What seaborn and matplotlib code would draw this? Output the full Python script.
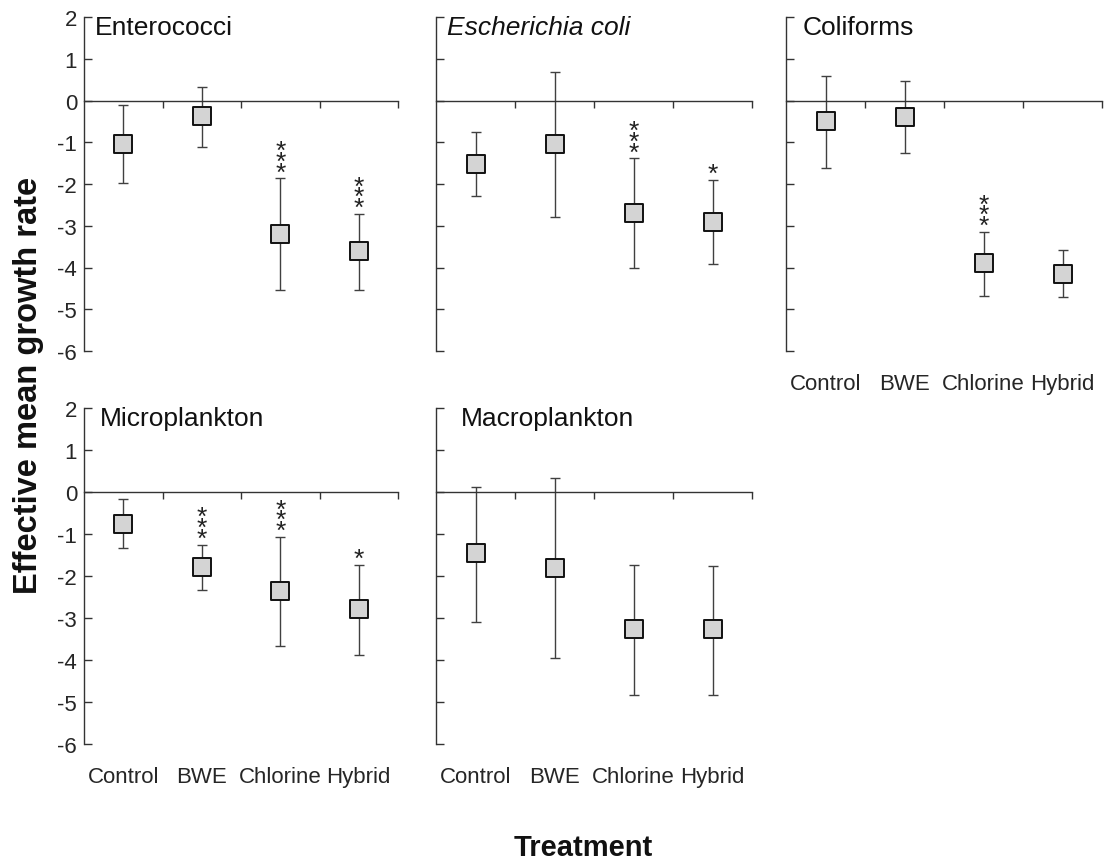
import numpy as np
import pandas as pd
import matplotlib
matplotlib.use("Agg")
import matplotlib.pyplot as plt
import seaborn as sns

# ---- data -------------------------------------------------------------
treatments = ["Control", "BWE", "Chlorine", "Hybrid"]
panel_names = ["Enterococci", "Escherichia coli", "Coliforms",
               "Microplankton", "Macroplankton"]

enterococci_mean = [-1.03, -0.36, -3.19, -3.61]
enterococci_low = [-1.98, -1.11, -4.53, -4.53]
enterococci_high = [-0.11, 0.33, -1.86, -2.71]
enterococci_sig = ["", "", "***", "***"]

ecoli_mean = [-1.52, -1.05, -2.70, -2.91]
ecoli_low = [-2.29, -2.79, -4.01, -3.91]
ecoli_high = [-0.75, 0.69, -1.38, -1.90]
ecoli_sig = ["", "", "***", "*"]

coliforms_mean = [-0.50, -0.40, -3.89, -4.15]
coliforms_low = [-1.61, -1.26, -4.69, -4.71]
coliforms_high = [0.59, 0.46, -3.14, -3.59]
coliforms_sig = ["", "", "***", ""]

micro_mean = [-0.75, -1.78, -2.35, -2.79]
micro_low = [-1.34, -2.33, -3.66, -3.87]
micro_high = [-0.17, -1.25, -1.06, -1.73]
micro_sig = ["", "***", "***", "*"]

macro_mean = [-1.46, -1.81, -3.25, -3.26]
macro_low = [-3.10, -3.96, -4.83, -4.83]
macro_high = [0.13, 0.33, -1.74, -1.76]
macro_sig = ["", "", "", ""]

y_ticks = [-6, -5, -4, -3, -2, -1, 0, 1, 2]

series = [
    (enterococci_mean, enterococci_low, enterococci_high, enterococci_sig),
    (ecoli_mean, ecoli_low, ecoli_high, ecoli_sig),
    (coliforms_mean, coliforms_low, coliforms_high, coliforms_sig),
    (micro_mean, micro_low, micro_high, micro_sig),
    (macro_mean, macro_low, macro_high, macro_sig),
]

frames = []
for name, (m, lo, hi, sig) in zip(panel_names, series):
    frames.append(pd.DataFrame({
        "panel": name,
        "treatment": treatments,
        "pos": np.arange(len(treatments)),
        "mean": m, "low": lo, "high": hi, "sig": sig,
    }))
df = pd.concat(frames, ignore_index=True)

# ---- style ------------------------------------------------------------
sns.set_theme(style="white")
plt.rcParams["font.family"] = ["Liberation Sans", "DejaVu Sans"]
plt.rcParams["axes.unicode_minus"] = False
plt.rcParams["axes.linewidth"] = 1.0
plt.rcParams["axes.edgecolor"] = "#333333"

W, H = 1111, 862
fig = plt.figure(figsize=(W / 100, H / 100), dpi=100)

# axes rectangles in pixels: left, top, width, height
rects = [
    (84, 18, 314, 334), (436, 18, 316, 334), (786, 18, 316, 334),
    (84, 409, 314, 336), (436, 409, 316, 336),
]
title_offsets_px = [11, 11, 17, 16, 25]
show_ylabels = [True, False, False, True, False]
show_xlabels = [False, False, True, True, True]

for i, name in enumerate(panel_names):
    l, t, w, h = rects[i]
    ax = fig.add_axes([l / W, 1 - (t + h) / H, w / W, h / H])
    d = df[df["panel"] == name]

    ax.errorbar(d["pos"], d["mean"],
                yerr=[d["mean"] - d["low"], d["high"] - d["mean"]],
                fmt="none", ecolor="#404040", elinewidth=1.0,
                capsize=3.3, capthick=1.0, zorder=2)
    sns.scatterplot(data=d, x="pos", y="mean", marker="s", s=175,
                    color="#d4d4d4", edgecolor="#111111", linewidth=1.4,
                    zorder=4, ax=ax, legend=False)

    for _, r in d.iterrows():
        if r["sig"]:
            ax.annotate("\n".join(r["sig"]), xy=(r["pos"], r["high"]),
                        xytext=(0, -4.5), textcoords="offset points",
                        ha="center", va="bottom", fontsize=19,
                        linespacing=0.30, color="#222222")

    ax.set_xlim(-0.5, 3.5)
    ax.set_ylim(-6, 2)
    ax.set_xlabel("")
    ax.set_ylabel("")
    for s in ("top", "right"):
        ax.spines[s].set_visible(False)
    ax.spines["bottom"].set_position(("data", 0))

    ax.set_xticks([0.5, 1.5, 2.5, 3.5])
    ax.set_xticklabels([])
    ax.tick_params(axis="x", direction="out", length=5, width=1.0,
                   color="#333333", bottom=True)
    ax.set_yticks(y_ticks)
    ax.tick_params(axis="y", direction="in", length=6, width=1.0,
                   color="#333333", left=True, labelsize=16, pad=5,
                   labelleft=show_ylabels[i])

    if show_xlabels[i]:
        sec = ax.secondary_xaxis("bottom")
        sec.set_xticks(range(len(treatments)), labels=treatments)
        sec.tick_params(length=0, labelsize=16, pad=16)
        sec.spines["bottom"].set_visible(False)

    ax.annotate(name, xy=(0, 1), xycoords="axes fraction",
                xytext=(title_offsets_px[i] * 0.72, -17 * 0.72),
                textcoords="offset points", ha="left", va="baseline",
                fontsize=19, style="italic" if name == "Escherichia coli" else "normal",
                color="#111111")

fig.text(29 / W, 1 - 385 / H, "Effective mean growth rate", rotation=90,
         ha="center", va="center", fontsize=23.5, fontweight="bold",
         color="#111111")
fig.text(583 / W, 1 - 856 / H, "Treatment", ha="center", va="baseline",
         fontsize=21, fontweight="bold", color="#111111")

fig.savefig("out.png", dpi=100)
